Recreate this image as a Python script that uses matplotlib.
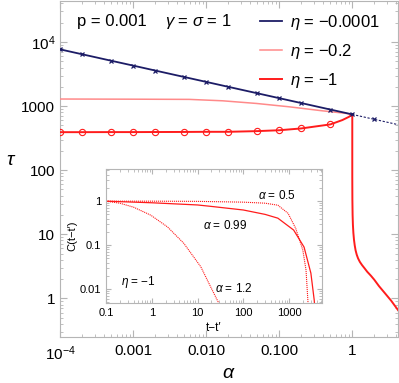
import matplotlib
matplotlib.use("Agg")
import matplotlib.pyplot as plt
from matplotlib.ticker import FixedLocator, FixedFormatter, LogLocator, NullFormatter

plt.rcParams["font.family"] = ["Liberation Sans", "DejaVu Sans"]
plt.rcParams["mathtext.fontset"] = "custom"
plt.rcParams["mathtext.rm"] = "Liberation Sans"
plt.rcParams["mathtext.it"] = "Liberation Sans:italic"

# main panel: relaxation time tau vs alpha
alpha_grid = [1e-4, 2e-4, 5e-4, 1e-3, 2e-3, 5e-3, 0.01, 0.02, 0.05, 0.1, 0.2, 0.5, 1.0]
tau_eta_small = [7690, 6450, 5110, 4290, 3594, 2848, 2388, 2002, 1587, 1330, 1116, 884, 742]
alpha_tail = [1.0, 2.0, 4.25]
tau_tail = [742, 622, 513]

alpha_pink = [1e-4, 1e-3, 0.0059, 0.0168, 0.0488, 0.137, 0.387, 0.82, 1.0]
tau_pink = [1290, 1282, 1273, 1210, 1100, 975, 845, 770, 742]

alpha_red = [1e-4, 2e-4, 5e-4, 1e-3, 2e-3, 5e-3, 0.01, 0.02, 0.05, 0.1, 0.2, 0.5, 0.73, 0.9, 1.0]
tau_red = [392, 392, 393, 393, 394, 395, 397, 397, 407, 420, 448, 518, 605, 680, 742]
alpha_red_hi = [1.0, 1.0, 1.003, 1.01, 1.02, 1.035, 1.055, 1.08, 1.11, 1.15, 1.2,
                1.27, 1.36, 1.47, 1.6, 1.8, 2.0, 2.32, 2.8, 3.4, 4.25]
tau_red_hi = [742, 80, 35, 20, 14, 10.5, 8.2, 6.7, 5.6, 4.8, 4.2,
              3.7, 3.3, 2.95, 2.6, 2.25, 1.95, 1.55, 1.2, 0.92, 0.65]
alpha_circles = alpha_grid[:12]
tau_circles = [392, 392, 393, 393, 394, 395, 397, 397, 407, 420, 448, 518]

xticks = [1e-4, 1e-3, 1e-2, 1e-1, 1]
xticklabels = ["$10^{-4}$", "0.001", "0.010", "0.100", "1"]
yticks = [1, 10, 100, 1000, 1e4]
yticklabels = ["1", "10", "100", "1000", "$10^4$"]

# inset: correlation C(t-t') for eta = -1
t_05 = [0.1, 1, 10, 100, 300, 570, 950, 1400, 2000, 2350, 2600, 2700]
c_05 = [1.0, 1.0, 0.99, 0.95, 0.9, 0.81, 0.53, 0.24, 0.077, 0.027, 0.0048, 0.002]
t_099 = [0.1, 1, 10, 20, 100, 300, 570, 1260, 2130, 3000, 3550, 3700]
c_099 = [1.0, 0.92, 0.82, 0.76, 0.63, 0.5, 0.41, 0.22, 0.09, 0.023, 0.0056, 0.003]
t_12 = [0.1, 0.2, 0.4, 0.95, 2.2, 5, 11.8, 19.5, 29, 33]
c_12 = [1.0, 0.9, 0.73, 0.48, 0.26, 0.11, 0.032, 0.011, 0.0048, 0.003]

BLUE = "#1c1c66"
PINK = "#ff8a8a"
RED = "#ff1c1c"
GRAY = "#b5b5b5"
ETA = r"$\mathit{\eta}$"


def style_axes(ax, major, minor, size):
    for s in ax.spines.values():
        s.set_color(GRAY)
        s.set_linewidth(0.8)
    ax.tick_params(which="both", direction="in", top=True, right=True,
                   color=GRAY, labelsize=size)
    ax.tick_params(which="major", length=major)
    ax.tick_params(which="minor", length=minor)


fig = plt.figure(figsize=(3.99, 3.83), dpi=100)
ax = fig.add_axes([0.1504, 0.1201, 0.8476, 0.8773])

ax.plot(alpha_grid, tau_eta_small, color=BLUE, lw=1.3,
        label=ETA + " = $-$0.0001", zorder=4)
ax.plot(alpha_grid, tau_eta_small, ls="none", color=BLUE, marker="x", ms=3.2,
        mew=0.9, zorder=4)
ax.plot(alpha_tail, tau_tail, color=BLUE, lw=0.8, ls=(0, (2, 1.5)), marker="x",
        ms=3.2, mew=0.9, markevery=[1], zorder=4)
ax.plot(alpha_pink, tau_pink, color=PINK, lw=1.1, label=ETA + " = $-$0.2", zorder=3)
ax.plot(alpha_red, tau_red, color=RED, lw=1.4, label=ETA + " = $-$1", zorder=3)
ax.plot(alpha_red_hi, tau_red_hi, color=RED, lw=1.4, zorder=3)
ax.plot(alpha_circles, tau_circles, ls="none", marker="o", ms=4.5, mfc="none",
        mec=RED, mew=0.8, zorder=3)

ax.set_xscale("log")
ax.set_yscale("log")
ax.set_xlim(1e-4, 4.25)
ax.set_ylim(0.249, 43700)
ax.xaxis.set_major_locator(FixedLocator(xticks))
ax.xaxis.set_major_formatter(FixedFormatter(xticklabels))
ax.yaxis.set_major_locator(FixedLocator(yticks))
ax.yaxis.set_major_formatter(FixedFormatter(yticklabels))
ax.xaxis.set_minor_locator(LogLocator(base=10, subs=range(2, 10), numticks=20))
ax.yaxis.set_minor_locator(LogLocator(base=10, subs=range(2, 10), numticks=20))
ax.xaxis.set_minor_formatter(NullFormatter())
ax.yaxis.set_minor_formatter(NullFormatter())
style_axes(ax, 5, 2.5, 11)
ax.tick_params(axis="x", pad=5)

ax.set_xlabel(r"$\mathit{\alpha}$", fontsize=14, labelpad=2)
ax.set_ylabel(r"$\mathit{\tau}$", fontsize=14, rotation=0, labelpad=14)
ax.yaxis.set_label_coords(-0.145, 0.5)

ax.text(0.05, 0.94, "p = 0.001", transform=ax.transAxes, fontsize=12, va="center")
ax.text(0.31, 0.94, r"$\mathit{\gamma}$ = $\mathit{\sigma}$ = 1", transform=ax.transAxes,
        fontsize=12, va="center")

leg = ax.legend(loc="upper right", bbox_to_anchor=(0.99, 1.01), frameon=False,
                fontsize=12, handlelength=1.3, handletextpad=0.5, labelspacing=0.62)

# inset
ins = fig.add_axes([0.2657, 0.2089, 0.5413, 0.3498])
ins.plot(t_05, c_05, color=RED, lw=0.8, ls=(0, (1, 0.8)))
ins.plot(t_099, c_099, color=RED, lw=0.9)
ins.plot(t_12, c_12, color=RED, lw=0.8, ls=(0, (1, 0.8)))
ins.set_xscale("log")
ins.set_yscale("log")
ins.set_xlim(0.1, 5250)
ins.set_ylim(0.0048, 5.4)
ins.xaxis.set_major_locator(FixedLocator([0.1, 1, 10, 100, 1000]))
ins.xaxis.set_major_formatter(FixedFormatter(["0.1", "1", "10", "100", "1000"]))
ins.yaxis.set_major_locator(FixedLocator([0.01, 0.1, 1]))
ins.yaxis.set_major_formatter(FixedFormatter(["0.01", "0.1", "1"]))
ins.xaxis.set_minor_locator(LogLocator(base=10, subs=range(2, 10), numticks=20))
ins.yaxis.set_minor_locator(LogLocator(base=10, subs=range(2, 10), numticks=20))
ins.xaxis.set_minor_formatter(NullFormatter())
ins.yaxis.set_minor_formatter(NullFormatter())
style_axes(ins, 3.5, 2, 8)
ins.set_xlabel("t\u2212t\u2032", fontsize=8.5, labelpad=3)
ins.set_ylabel("C(t\u2212t\u2032)", fontsize=8, labelpad=2)

ALPHA = r"$\mathit{\alpha}$"
ins.text(0.79, 0.80, ALPHA + " = 0.5", transform=ins.transAxes, fontsize=8.5,
         ha="center", va="center")
ins.text(0.55, 0.58, ALPHA + " = 0.99", transform=ins.transAxes, fontsize=8.5,
         ha="center", va="center")
ins.text(0.59, 0.11, ALPHA + " = 1.2", transform=ins.transAxes, fontsize=8.5,
         ha="center", va="center")
ins.text(0.15, 0.16, ETA + " = $-$1", transform=ins.transAxes, fontsize=8.5,
         ha="center", va="center")

fig.savefig("out.png", dpi=100)
